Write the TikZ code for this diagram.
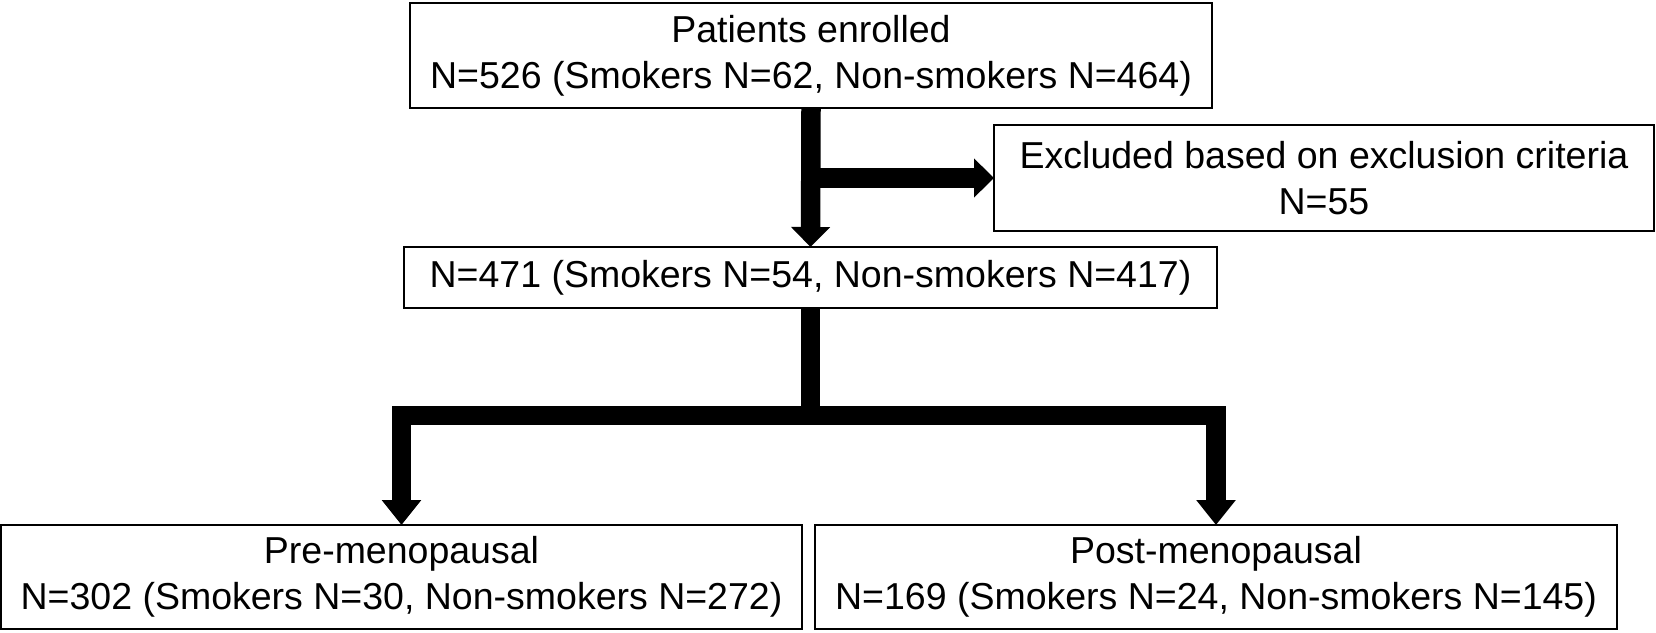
\documentclass[tikz,border=0pt]{standalone}
\usepackage{fontspec}
\newfontfamily\flowfont{Liberation Sans}
\usetikzlibrary{arrows.meta}

\begin{document}
\begin{tikzpicture}[x=1pt,y=-1pt,
  box/.style={draw=black, line width=1.5pt, inner sep=0pt, outer sep=0pt, align=center, font=\flowfont\fontsize{37.5}{46}\selectfont},
  fat/.style={line width=19.5pt, -{Triangle[width=38pt,length=#1]}},
  fat/.default=20pt,
  fatline/.style={line width=19.5pt}]
\useasboundingbox (0,0) rectangle (1656,632);
\node[box, minimum width=802, minimum height=105] (enrolled) at (811,55.5) {Patients enrolled\\N=526 (Smokers N=62, Non-smokers N=464)};
\node[box, minimum width=660, minimum height=106] (excluded) at (1324,178) {Excluded based on exclusion criteria\\N=55};
\node[box, minimum width=813, minimum height=61] (included) at (810.5,277.5) {N=471 (Smokers N=54, Non-smokers N=417)};
\node[box, minimum width=801, minimum height=104] (pre) at (401.5,577) {Pre-menopausal\\N=302 (Smokers N=30, Non-smokers N=272)};
\node[box, minimum width=802, minimum height=104] (post) at (1216,577) {Post-menopausal\\N=169 (Smokers N=24, Non-smokers N=145)};
\coordinate (split) at (810.5,415.5);
\draw[fat] (enrolled.south) -- (included.north);
\draw[fat] (enrolled.south |- excluded.west) -- (excluded.west);
\draw[fatline] (included.south) -- (split);
\draw[fat=25pt] (split) -| (pre.north);
\draw[fat=25pt] (split) -| (post.north);
\end{tikzpicture}
\end{document}
